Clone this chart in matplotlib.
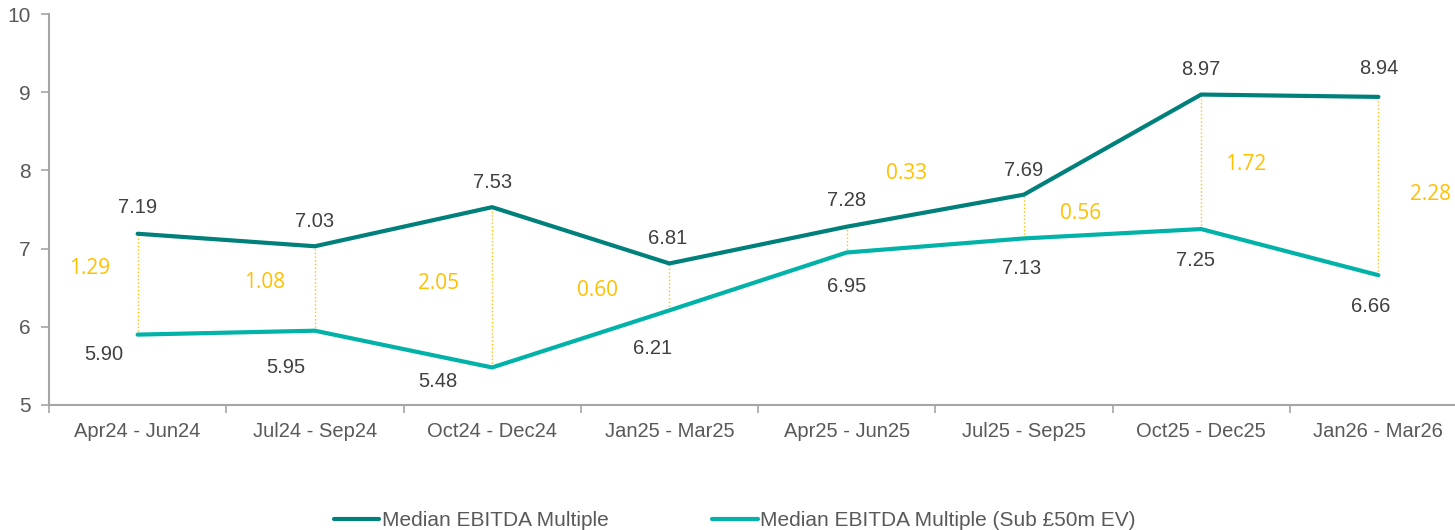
import matplotlib
matplotlib.use("Agg")
import matplotlib.pyplot as plt
import matplotlib.font_manager as fm

periods = ["Apr24 - Jun24", "Jul24 - Sep24", "Oct24 - Dec24", "Jan25 - Mar25",
           "Apr25 - Jun25", "Jul25 - Sep25", "Oct25 - Dec25", "Jan26 - Mar26"]
median_all = [7.19, 7.03, 7.53, 6.81, 7.28, 7.69, 8.97, 8.94]
median_sub50 = [5.90, 5.95, 5.48, 6.21, 6.95, 7.13, 7.25, 6.66]
label_all = "Median EBITDA Multiple"
label_sub50 = "Median EBITDA Multiple (Sub £50m EV)"

# label offsets in pixels (dx, dy down)
off_top = [(0, -26), (0, -25), (0, -25), (-2, -25), (0, -26), (0, -24), (0, -25), (0, -28)]
off_bot = [(-34, 20), (-29, 37), (-54, 14), (-17, 38), (0, 34), (-2, 30), (-6, 31), (-8, 31)]
off_gap = [(-48, -16), (-50, -6), (-54, -4), (-72, 4), (60, -66), (57, -3), (45, 3), (52, 8)]

dark = "#00807B"
light = "#00B2A7"
gold = "#FFC000"
txt = "#404040"
axc = "#A6A6A6"

installed = {f.name for f in fm.fontManager.ttflist}
base = "Liberation Sans" if "Liberation Sans" in installed else "DejaVu Sans"
gapfont = "Open Sans" if "Open Sans" in installed else base
plt.rcParams["font.family"] = [base, "DejaVu Sans"]

fig = plt.figure(figsize=(14.55, 5.3), dpi=100)
ax = fig.add_axes([49 / 1455, 125 / 530, 1418 / 1455, 391 / 530])
x = list(range(len(periods)))

for i in x:
    ax.vlines(i, median_sub50[i], median_all[i], colors=gold, linestyles=":", linewidth=1.0, zorder=1)

ax.plot(x, median_all, color=dark, lw=3.0, solid_capstyle="round", label=label_all, zorder=3)
ax.plot(x, median_sub50, color=light, lw=3.0, solid_capstyle="round", label=label_sub50, zorder=3)

for i in x:
    ax.annotate(f"{median_all[i]:.2f}", (i, median_all[i]), xytext=(off_top[i][0], -off_top[i][1]),
                textcoords="offset pixels", ha="center", va="center", fontsize=14.5, color=txt)
    ax.annotate(f"{median_sub50[i]:.2f}", (i, median_sub50[i]), xytext=(off_bot[i][0], -off_bot[i][1]),
                textcoords="offset pixels", ha="center", va="center", fontsize=14.5, color=txt)
    gap = median_all[i] - median_sub50[i]
    mid = (median_all[i] + median_sub50[i]) / 2
    ax.annotate(f"{gap:.2f}", (i, mid), xytext=(off_gap[i][0], -off_gap[i][1]),
                textcoords="offset pixels", ha="center", va="center", fontsize=15, color=gold,
                family=[gapfont, "DejaVu Sans"])

ax.set_xlim(-0.5, len(periods) - 0.5)
ax.set_ylim(5, 10)
ax.set_yticks([5, 6, 7, 8, 9, 10])
ax.set_xticks(x)
ax.set_xticklabels(periods, fontsize=14.5, color="#595959")
ax.set_xticks([i - 0.5 for i in range(len(periods) + 1)], minor=True)
ax.tick_params(axis="x", which="major", length=0, pad=12)
ax.tick_params(axis="x", which="minor", length=6, color=axc, width=1.2)
ax.tick_params(axis="y", length=6, color=axc, width=1.2, labelsize=15, labelcolor="#595959", pad=7)
for s in ["top", "right"]:
    ax.spines[s].set_visible(False)
for s in ["left", "bottom"]:
    ax.spines[s].set_color(axc)
    ax.spines[s].set_linewidth(1.5)

leg = fig.legend(loc="lower center", bbox_to_anchor=(0.505, -0.035), ncols=2, frameon=False,
                 handlelength=2.2, handletextpad=0.1, columnspacing=5.0,
                 prop={"size": 15})
for t in leg.get_texts():
    t.set_color("#595959")

fig.savefig("out.png", dpi=100)
